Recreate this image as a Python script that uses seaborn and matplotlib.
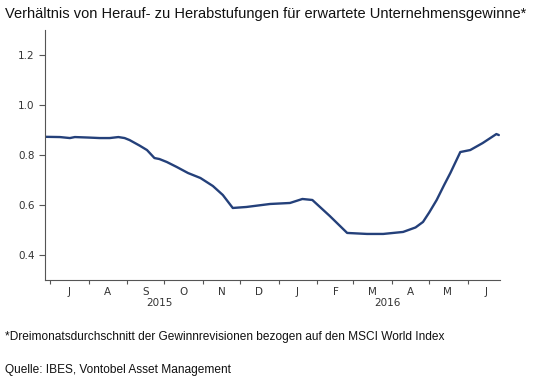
import pandas as pd
import matplotlib.pyplot as plt
import matplotlib.transforms as mtransforms
import seaborn as sns

# ratio of upgrades to downgrades
dates = ["2015-06-27", "2015-07-09", "2015-07-17", "2015-07-21", "2015-08-01",
         "2015-08-10", "2015-08-18", "2015-08-25", "2015-08-30", "2015-09-03",
         "2015-09-11", "2015-09-17", "2015-09-23", "2015-09-27", "2015-10-03",
         "2015-10-11", "2015-10-20", "2015-10-30", "2015-11-09", "2015-11-17",
         "2015-11-25", "2015-12-06", "2015-12-25", "2016-01-10", "2016-01-20",
         "2016-01-28", "2016-02-11", "2016-02-25", "2016-03-12", "2016-03-25",
         "2016-04-10", "2016-04-20", "2016-04-26", "2016-05-01", "2016-05-07",
         "2016-05-13", "2016-05-18", "2016-05-26", "2016-06-03", "2016-06-13",
         "2016-06-24", "2016-06-26"]
ratio = [0.873, 0.872, 0.868, 0.872, 0.870,
         0.868, 0.868, 0.872, 0.868, 0.860,
         0.838, 0.820, 0.788, 0.784, 0.772,
         0.752, 0.728, 0.708, 0.676, 0.640,
         0.588, 0.592, 0.604, 0.608, 0.624,
         0.620, 0.556, 0.488, 0.484, 0.484,
         0.492, 0.510, 0.532, 0.570, 0.620,
         0.680, 0.728, 0.812, 0.820, 0.848,
         0.884, 0.880]

month_letters = ["J", "A", "S", "O", "N", "D", "J", "F", "M", "A", "M", "J"]
years = ["2015", "2016"]
yticks = [0.4, 0.6, 0.8, 1.0, 1.2]

df = pd.DataFrame({"date": pd.to_datetime(dates), "ratio": ratio})

sns.set_style("ticks")
plt.rcParams["font.family"] = ["DejaVu Sans"]

fig = plt.figure(figsize=(5.36, 3.92), dpi=100)
ax = fig.add_axes([0.084, 0.286, 0.849, 0.637])

sns.lineplot(data=df, x="date", y="ratio", ax=ax, color="#24407a", linewidth=1.7)

ax.set_xlim(pd.Timestamp("2015-06-27"), pd.Timestamp("2016-06-27"))
ax.set_ylim(0.3, 1.3)
ax.set_yticks(yticks)
ax.set_yticklabels([f"{v:.1f}" for v in yticks])
ax.set_xlabel("")
ax.set_ylabel("")

# month boundaries as major ticks, letters centred as minor ticks
month_starts = pd.date_range("2015-07-01", "2016-06-01", freq="MS")
ax.set_xticks(month_starts)
ax.set_xticklabels([""] * len(month_starts))
mids = month_starts + pd.Timedelta(days=15)
ax.set_xticks(mids, minor=True)
ax.set_xticklabels(month_letters, minor=True)
ax.tick_params(axis="x", which="minor", length=0, pad=5, labelsize=7.5, labelcolor="#333333")
ax.tick_params(axis="x", which="major", length=3, color="#555555")
ax.tick_params(axis="y", length=4, labelsize=7.5, labelcolor="#333333", color="#555555")

for s in ["left", "bottom"]:
    ax.spines[s].set_color("#555555")
    ax.spines[s].set_linewidth(0.8)
sns.despine(ax=ax)

trans = mtransforms.blended_transform_factory(ax.transData, ax.transAxes)
ax.text(pd.Timestamp("2015-09-27"), -0.092, years[0], transform=trans,
        ha="center", va="center", fontsize=7.5, color="#333333")
ax.text(pd.Timestamp("2016-03-28"), -0.092, years[1], transform=trans,
        ha="center", va="center", fontsize=7.5, color="#333333")

fig.text(0.009, 0.964, "Verhältnis von Herauf- zu Herabstufungen für erwartete Unternehmensgewinne*",
         fontsize=10.5, family="Liberation Sans", va="center", ha="left", color="#111111")
fig.text(0.009, 0.14, "*Dreimonatsdurchschnitt der Gewinnrevisionen bezogen auf den MSCI World Index",
         fontsize=8.6, family="Liberation Sans", va="center", ha="left", color="#111111")
fig.text(0.009, 0.057, "Quelle: IBES, Vontobel Asset Management",
         fontsize=8.6, family="Liberation Sans", va="center", ha="left", color="#111111")

plt.savefig("out.png", dpi=100)
